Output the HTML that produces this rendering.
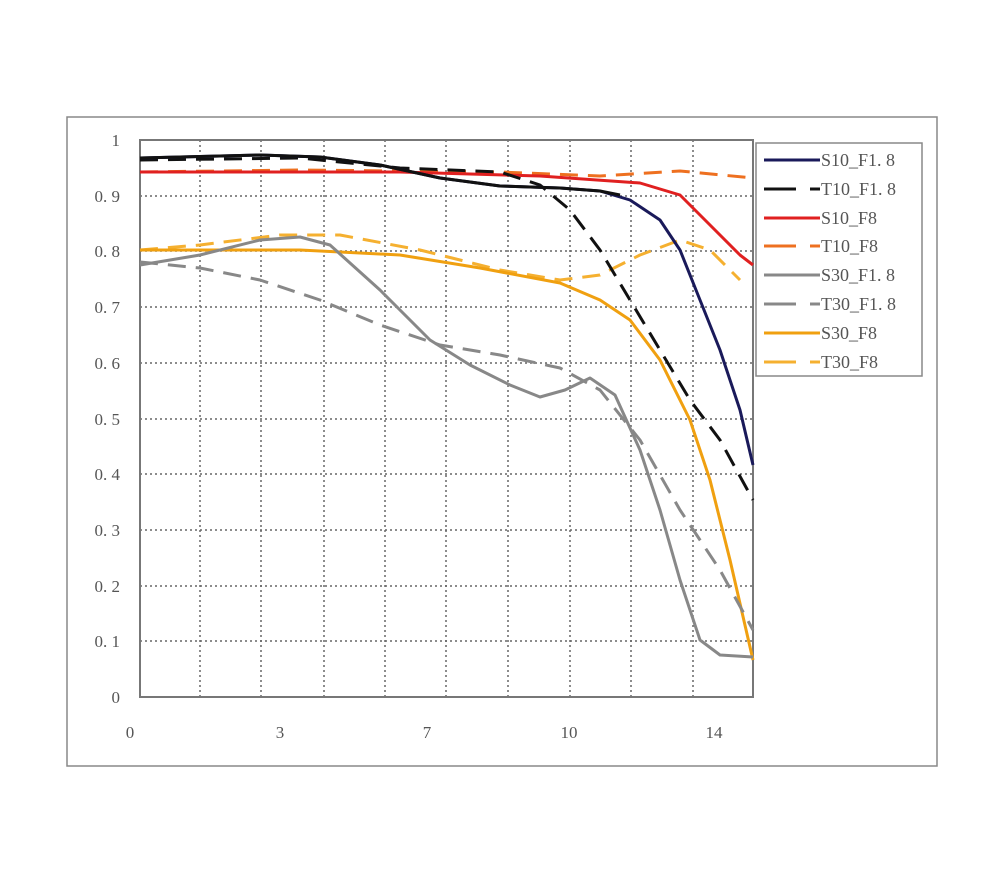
<!DOCTYPE html>
<html><head><style>body{margin:0;background:#fff}</style></head><body>
<svg width="1000" height="875" xmlns="http://www.w3.org/2000/svg" font-family="Liberation Serif, serif" font-size="17" fill="#555">
<rect x="67" y="117" width="870" height="649" fill="none" stroke="#888" stroke-width="1.5"/>
<g stroke="#666" stroke-width="1.5" stroke-dasharray="2,3">
<line x1="200" y1="140" x2="200" y2="697"/><line x1="261" y1="140" x2="261" y2="697"/><line x1="324" y1="140" x2="324" y2="697"/><line x1="385" y1="140" x2="385" y2="697"/><line x1="446" y1="140" x2="446" y2="697"/><line x1="508" y1="140" x2="508" y2="697"/><line x1="570" y1="140" x2="570" y2="697"/><line x1="631" y1="140" x2="631" y2="697"/><line x1="693" y1="140" x2="693" y2="697"/>
<line x1="140" y1="196" x2="753" y2="196"/><line x1="140" y1="251" x2="753" y2="251"/><line x1="140" y1="307" x2="753" y2="307"/><line x1="140" y1="363" x2="753" y2="363"/><line x1="140" y1="419" x2="753" y2="419"/><line x1="140" y1="474" x2="753" y2="474"/><line x1="140" y1="530" x2="753" y2="530"/><line x1="140" y1="586" x2="753" y2="586"/><line x1="140" y1="641" x2="753" y2="641"/>
</g>
<rect x="140" y="140" width="613" height="557" fill="none" stroke="#777" stroke-width="2"/>
<g text-anchor="end">
<text x="120" y="146">1</text><text x="120" y="202">0. 9</text><text x="120" y="257">0. 8</text><text x="120" y="313">0. 7</text><text x="120" y="369">0. 6</text><text x="120" y="425">0. 5</text><text x="120" y="480">0. 4</text><text x="120" y="536">0. 3</text><text x="120" y="592">0. 2</text><text x="120" y="647">0. 1</text><text x="120" y="703">0</text>
</g>
<g text-anchor="middle"><text x="130" y="738">0</text><text x="280" y="738">3</text><text x="427" y="738">7</text><text x="569" y="738">10</text><text x="714" y="738">14</text></g>
<g fill="none" stroke-width="3" stroke-linejoin="round">
<polyline stroke="#f5b030" stroke-dasharray="18,10" points="140,250 200,245 280,235 340,235 420,250 500,270 560,280 600,275 640,255 680,240 710,250 740,280"/>
<polyline stroke="#f0a010" points="140,250 300,250 400,255 480,268 560,283 600,300 630,320 660,360 690,420 710,480 730,560 753,660"/>
<polyline stroke="#888" stroke-dasharray="18,10" points="140,262 200,268 260,280 320,300 380,325 440,345 500,355 560,368 600,390 640,440 680,510 720,570 753,630"/>
<polyline stroke="#888" points="140,265 200,255 260,240 300,237 330,245 380,290 430,340 470,365 510,385 540,397 565,390 590,378 615,395 640,450 660,510 680,580 700,640 720,655 753,657"/>
<polyline stroke="#ee7020" stroke-dasharray="18,10" points="140,172 300,170 500,172 600,176 680,171 753,178"/>
<polyline stroke="#e02020" points="140,172 400,172 540,176 640,183 680,195 710,225 740,255 753,265"/>
<polyline stroke="#111" stroke-dasharray="18,10" points="140,160 300,158 400,168 500,172 540,185 570,210 600,250 630,300 660,350 690,400 720,440 753,500"/>
<polyline stroke="#1a1a5a" points="140,158 260,155 320,157 380,165 440,178 500,186 560,188 600,191 630,200 660,220 680,250 700,300 720,350 740,410 753,465"/>
<polyline stroke="#111" points="140,158 260,155 320,157 380,165 440,178 500,186 560,188 600,191 620,195"/>
</g>
<rect x="756" y="143" width="166" height="233" fill="#fff" stroke="#888" stroke-width="1.5"/>
<g stroke-width="3">
<line x1="764" y1="160" x2="820" y2="160" stroke="#1a1a5a"/>
<line x1="764" y1="189" x2="796" y2="189" stroke="#111"/><line x1="810" y1="189" x2="820" y2="189" stroke="#111"/>
<line x1="764" y1="218" x2="820" y2="218" stroke="#e02020"/>
<line x1="764" y1="246" x2="796" y2="246" stroke="#ee7020"/><line x1="810" y1="246" x2="820" y2="246" stroke="#ee7020"/>
<line x1="764" y1="275" x2="820" y2="275" stroke="#888"/>
<line x1="764" y1="304" x2="796" y2="304" stroke="#888"/><line x1="810" y1="304" x2="820" y2="304" stroke="#888"/>
<line x1="764" y1="333" x2="820" y2="333" stroke="#f0a010"/>
<line x1="764" y1="362" x2="796" y2="362" stroke="#f5b030"/><line x1="810" y1="362" x2="820" y2="362" stroke="#f5b030"/>
</g>
<g font-size="18">
<text x="821" y="166">S10_F1. 8</text><text x="821" y="195">T10_F1. 8</text><text x="821" y="224">S10_F8</text><text x="821" y="252">T10_F8</text><text x="821" y="281">S30_F1. 8</text><text x="821" y="310">T30_F1. 8</text><text x="821" y="339">S30_F8</text><text x="821" y="368">T30_F8</text>
</g>
</svg>
</body></html>
